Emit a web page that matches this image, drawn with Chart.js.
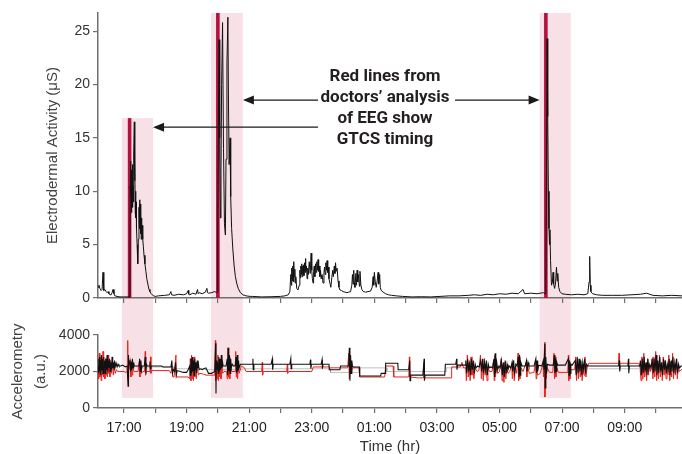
<!DOCTYPE html>
<html>
<head>
<meta charset="utf-8">
<script src="https://cdn.jsdelivr.net/npm/chart.js@4.4.1/dist/chart.umd.min.js"></script>
<style>
  html, body { margin: 0; padding: 0; background: #fff; overflow: hidden; }
  #eda { position: absolute; left: 0; top: 0; }
  #acc { position: absolute; left: 0; top: 312px; }
</style>
</head>
<body>
<canvas id="eda" width="682" height="312"></canvas>
<canvas id="acc" width="682" height="144"></canvas>
<script>
// time is hours after 16:00
const xMin = 0.17, xMax = 18.83;
const xTickHours = [1,2,3,4,5,6,7,8,9,10,11,12,13,14,15,16,17,18];
const xLabelHours = [1,3,5,7,9,11,13,15,17];
const xLabels = ['17:00','19:00','21:00','23:00','01:00','03:00','05:00','07:00','09:00'];
const edaTicks = [0,5,10,15,20,25];
const accTicks = [0,2000,4000];

// seizure windows (pink) and EEG onset (red lines)
const bandStart = [0.93, 3.78, 14.28];
const bandEnd = [1.93, 4.80, 15.28];
const bandTopEda = [16.85, 26.7, 26.7];
const bandBottomAcc = 550;
const seizureOnset = [1.18, 4.00, 14.48];

// annotation
const noteLines = ['Red lines from', 'doctors\u2019 analysis', 'of EEG show', 'GTCS timing'];
const noteAt = [9.34, 20.7];
const arrowFrom = [[7.2, 18.54], [7.2, 16.0], [11.58, 18.54]];
const arrowTo = [[4.80, 18.54], [1.93, 16.0], [14.28, 18.54]];

// electrodermal activity, [hours, uS]
const edaPoints = [
  [0.17,1.0],[0.20,1.2],[0.23,0.9],[0.27,0.7],[0.30,0.8],[0.33,2.4],[0.35,0.9],[0.36,0.7],[0.39,0.8],
  [0.43,0.6],[0.46,0.5],[0.49,0.6],[0.52,0.4],[0.55,0.3],[0.59,0.3],[0.62,0.5],[0.65,0.8],[0.68,0.4],
  [0.71,0.2],[0.78,0.15],[0.87,0.1],[1.00,0.1],[1.13,0.1],[1.18,0.1],
  [1.19,2.0],[1.20,10.5],[1.21,12.8],[1.22,9.5],[1.23,12.0],[1.24,8.0],[1.25,11.0],[1.26,9.5],[1.27,12.5],
  [1.28,8.5],[1.29,10.5],[1.30,9.0],[1.31,11.5],[1.32,13.5],[1.33,16.5],[1.34,11.0],[1.35,13.0],[1.36,8.0],
  [1.37,10.0],[1.38,7.5],[1.39,9.0],[1.40,6.5],[1.42,5.0],[1.44,3.2],[1.46,5.5],[1.48,8.5],[1.49,6.5],
  [1.50,9.2],[1.51,7.0],[1.52,8.8],[1.53,6.0],[1.54,8.0],[1.55,5.5],[1.56,7.5],[1.57,6.0],[1.58,6.8],
  [1.60,5.5],[1.62,4.8],[1.64,4.0],[1.67,3.2],[1.70,2.5],[1.73,1.8],[1.77,1.2],[1.80,0.8],[1.83,0.6],
  [1.87,0.4],[1.90,0.3],[1.95,0.2],[2.0,0.15],
  [2.10,0.2],[2.30,0.25],[2.45,0.3],[2.50,0.6],[2.52,0.3],[2.60,0.25],[2.75,0.35],[2.90,0.3],[3.00,0.4],
  [3.05,0.7],[3.07,0.35],[3.10,0.3],[3.20,0.45],[3.30,0.35],[3.35,0.8],[3.37,0.4],[3.40,0.5],[3.50,0.4],
  [3.60,0.55],[3.65,0.9],[3.67,0.5],[3.70,0.45],[3.80,0.5],[3.90,0.6],[3.97,0.5],
  [3.99,0.6],[4.00,8.0],[4.02,18.0],[4.04,24.2],[4.06,15.0],[4.08,7.5],[4.10,12.0],[4.12,20.0],[4.15,25.8],
  [4.18,14.0],[4.21,7.0],[4.24,5.9],[4.26,13.0],[4.29,22.0],[4.32,26.3],[4.34,18.0],[4.36,12.5],[4.39,15.0],
  [4.41,9.5],[4.44,6.5],[4.48,4.5],[4.52,3.0],[4.56,2.0],[4.60,1.4],[4.65,0.9],[4.72,0.5],[4.80,0.3],
  [4.90,0.2],[5.03,0.15],[5.10,0.15],[5.40,0.1],[5.70,0.12],[6.00,0.15],[6.14,0.2],
  [6.25,0.3],[6.30,0.6],[6.33,2.2],[6.345,1.2],[6.36,2.8],[6.375,1.6],[6.39,3.0],[6.40,1.8],[6.41,2.6],
  [6.42,1.5],[6.43,3.4],[6.44,2.0],[6.46,2.7],[6.47,1.4],[6.49,2.0],[6.52,0.9],[6.56,0.75],[6.60,1.2],
  [6.62,2.6],[6.635,1.9],[6.65,3.0],[6.665,2.2],[6.68,3.2],[6.69,2.0],[6.71,3.0],[6.72,2.3],[6.74,3.1],
  [6.75,2.1],[6.77,3.3],[6.785,2.4],[6.80,3.7],[6.81,2.5],[6.83,3.0],[6.85,1.8],[6.87,2.8],[6.89,2.2],
  [6.92,3.4],[6.95,2.3],[6.98,4.2],[7.00,2.6],[7.02,1.8],[7.04,1.4],[7.06,2.5],[7.08,3.0],[7.10,2.0],
  [7.12,3.2],[7.14,2.4],[7.16,3.4],[7.18,2.6],[7.20,3.6],[7.22,2.5],[7.24,3.0],[7.26,2.0],[7.28,2.6],
  [7.30,1.8],[7.33,2.2],[7.36,1.4],[7.39,2.4],[7.41,2.9],[7.43,2.2],[7.45,3.3],[7.47,2.6],[7.49,3.5],
  [7.51,2.4],[7.53,2.9],[7.55,1.8],[7.58,1.4],[7.61,1.0],[7.64,1.9],[7.67,2.6],[7.69,2.0],[7.72,3.0],
  [7.74,2.3],[7.76,3.3],[7.78,2.5],[7.81,2.8],[7.84,1.6],[7.87,1.0],[7.90,0.75],[7.95,0.7],[8.00,0.6],
  [8.06,0.55],[8.12,0.5],[8.18,0.55],[8.24,0.6],[8.28,1.2],[8.30,2.2],[8.32,1.3],[8.34,2.6],[8.36,1.4],
  [8.38,1.0],[8.41,2.3],[8.43,1.2],[8.45,2.6],[8.47,1.5],[8.50,2.2],[8.52,1.1],[8.54,2.5],[8.57,1.2],
  [8.60,0.8],[8.65,0.6],[8.72,0.55],[8.80,0.6],[8.88,0.65],[8.93,1.0],[8.96,2.0],[8.98,1.2],[9.00,2.4],
  [9.03,1.5],[9.06,1.0],[9.09,1.6],[9.12,2.4],[9.14,1.3],[9.17,2.2],[9.19,1.0],[9.22,0.7],[9.28,0.55],
  [9.36,0.4],[9.45,0.3],[9.55,0.25],[9.70,0.2],
  [9.90,0.15],[10.2,0.1],[10.5,0.12],[10.8,0.1],[11.1,0.15],[11.4,0.2],[11.7,0.2],[12.0,0.25],[12.2,0.3],
  [12.4,0.25],[12.6,0.35],[12.8,0.3],[13.0,0.4],[13.2,0.35],[13.4,0.45],[13.6,0.4],[13.75,0.8],[13.8,0.4],
  [14.0,0.45],[14.2,0.4],[14.4,0.5],
  [14.46,0.4],[14.48,1.5],[14.50,12.0],[14.52,24.3],[14.54,17.0],[14.56,10.0],[14.58,6.5],[14.595,5.0],
  [14.61,6.4],[14.63,3.5],[14.66,1.2],[14.69,1.5],[14.71,2.4],[14.73,1.3],[14.76,0.9],[14.79,1.4],
  [14.82,2.9],[14.84,1.6],[14.86,2.3],[14.89,1.0],[14.93,0.6],[14.99,0.4],[15.1,0.35],[15.3,0.3],
  [15.5,0.35],[15.7,0.3],[15.82,0.4],[15.86,1.5],[15.88,3.9],[15.90,1.2],[15.92,0.6],[15.97,0.4],
  [16.1,0.3],[16.3,0.25],[16.6,0.25],[16.9,0.25],[17.2,0.3],[17.5,0.35],[17.7,0.45],[17.9,0.25],
  [18.2,0.2],[18.5,0.25],[18.83,0.2]
];

// accelerometry, [hours, a.u.]
const accBlack = [
  [0.17,2300],[0.19,2700],[0.20,1900],[0.22,2800],[0.23,2000],[0.25,2600],[0.26,1800],[0.28,2900],[0.30,2100],
  [0.31,2700],[0.33,1900],[0.35,2800],[0.36,2200],[0.38,2600],[0.40,1900],[0.42,2700],[0.44,2100],[0.46,2900],
  [0.48,2000],[0.50,2600],[0.52,2200],[0.54,2700],[0.56,2000],[0.58,2500],[0.60,2100],[0.62,2800],[0.64,2200],
  [0.66,2500],[0.68,2100],[0.70,2600],[0.72,2250],[0.75,2450],[0.78,2250],[0.81,2400],[0.84,2300],
  [0.90,2300],[0.95,2350],[1.00,2300],[1.05,2250],[1.10,2300],[1.12,2300],[1.13,1200],[1.14,2900],[1.15,2300],
  [1.19,2600],[1.21,2000],[1.23,2500],[1.25,2100],[1.27,2700],[1.29,2200],[1.31,2500],[1.33,2300],[1.40,2300],
  [1.48,2300],[1.50,2700],[1.52,2000],[1.54,2600],[1.56,2100],[1.58,2300],[1.65,2300],[1.68,2800],[1.70,1900],
  [1.72,2400],[1.74,2300],[1.80,2300],[1.83,2550],[1.84,2150],[1.86,2300],[2.20,2300],[2.25,2250],[2.45,2250],
  [2.50,2250],[2.53,2600],[2.55,1900],[2.58,2100],[2.62,2000],[2.65,2500],[2.67,1800],[2.70,2050],[2.80,2000],
  [2.90,1950],[3.00,1950],[3.05,2100],
  [3.10,2300],[3.12,1800],[3.14,2700],[3.16,1900],[3.18,2800],[3.20,2000],[3.22,2600],[3.24,1800],[3.26,2700],
  [3.28,2100],[3.30,2500],[3.32,1900],[3.34,2600],[3.36,2200],[3.38,2400],[3.40,2100],[3.45,2150],[3.50,2100],
  [3.55,2150],[3.62,2200],[3.70,1900],[3.80,1900],[3.90,2000],[3.93,3550],[3.94,800],[3.95,2600],[3.97,2100],
  [3.99,2500],[4.01,1900],[4.03,2800],[4.05,2000],[4.07,2700],[4.09,2100],[4.11,2900],[4.13,2200],[4.15,2500],
  [4.17,2300],[4.22,2300],[4.26,2300],[4.30,2700],[4.31,1800],[4.33,3300],[4.35,2000],[4.37,2900],[4.39,1900],
  [4.41,2700],[4.43,2200],[4.46,2400],[4.50,2300],[4.55,2300],[4.58,2800],[4.60,1900],[4.62,2900],[4.64,2000],
  [4.66,2600],[4.68,2200],[4.72,2400],[4.80,2400],
  [4.85,2400],[5.10,2400],[5.12,2700],[5.13,2100],[5.15,2400],[5.70,2400],[5.74,2700],[5.75,2100],[5.77,2400],
  [6.30,2400],[6.33,2700],[6.34,2150],[6.36,2400],[6.94,2400],[6.96,2650],[6.97,2150],[6.99,2400],[7.30,2400],
  [7.33,2650],[7.34,2150],[7.36,2400],[7.55,2400],[7.56,2100],[7.90,2100],[7.92,2300],[8.10,2300],
  [8.18,2300],[8.20,3300],[8.22,1500],[8.24,2900],[8.26,1900],[8.28,2600],[8.30,2300],
  [8.32,2250],[8.52,2250],[8.53,1750],[9.20,1750],[9.22,1900],[9.35,1900],[9.36,2450],[9.75,2450],[9.76,2100],
  [10.10,2100],[10.13,2600],[10.14,1500],[10.16,1800],[10.55,1800],[10.59,2700],[10.60,1500],[10.62,1800],
  [11.25,1800],[11.27,2400],[11.60,2400],[11.63,2700],[11.64,2100],[11.66,2350],[11.90,2350],
  [11.92,2600],[11.95,1900],[11.98,2700],[12.01,2000],[12.04,2500],[12.07,1800],[12.10,2700],[12.13,2100],
  [12.16,2600],[12.19,1900],[12.22,2400],[12.25,2200],[12.30,2300],[12.35,2250],[12.40,2600],[12.43,2000],
  [12.46,2700],[12.49,1900],[12.52,2500],[12.55,2100],[12.58,2600],[12.61,1800],[12.64,2400],[12.67,2200],
  [12.72,2250],[12.78,2200],[12.82,2700],[12.84,1700],[12.86,3000],[12.88,1900],[12.91,2500],[12.94,2100],
  [12.98,2300],[13.02,2200],[13.06,2600],[13.09,1800],[13.12,2500],[13.15,1700],[13.18,2600],[13.21,1900],
  [13.24,2400],[13.27,2100],[13.31,2300],[13.36,2200],[13.40,2500],[13.42,2000],[13.45,2600],[13.48,1900],
  [13.52,2400],[13.56,2300],[13.60,2800],[13.62,1700],[13.64,2900],[13.66,1800],[13.68,2500],[13.72,2300],
  [13.78,2300],[13.82,2300],[13.86,2600],[13.88,2000],[13.91,2500],[13.94,2300],
  [14.00,2300],[14.10,2300],[14.16,2700],[14.18,1900],[14.20,2600],[14.22,2000],[14.25,2350],[14.35,2300],
  [14.40,2600],[14.42,2100],[14.45,3600],[14.46,1100],[14.48,2800],[14.50,1900],[14.53,2400],
  [14.60,2350],[14.72,2350],[14.75,2900],[14.77,1900],[14.79,2700],[14.81,2000],[14.83,2500],[14.86,2350],
  [15.10,2350],[15.20,2700],[15.22,1800],[15.24,2600],[15.26,1900],[15.28,2400],[15.32,2350],
  [15.42,2600],[15.45,1800],[15.48,2800],[15.51,1900],[15.54,2700],[15.57,2000],[15.60,2600],[15.63,1800],
  [15.66,2500],[15.69,2100],[15.72,2700],[15.75,1900],[15.78,2400],[15.82,2300],
  [15.85,2300],[16.80,2300],[16.83,2600],[16.84,2000],[16.86,2300],[17.10,2300],[17.12,2700],[17.13,1900],
  [17.15,2300],[17.48,2300],
  [17.50,2600],[17.53,1800],[17.56,2700],[17.59,1900],[17.62,2800],[17.65,2000],[17.68,2500],[17.71,1800],
  [17.74,2700],[17.77,2100],[17.80,2400],[17.84,2200],[17.88,2600],[17.91,1900],[17.94,2700],[17.97,2000],
  [18.00,2900],[18.03,1800],[18.06,2600],[18.09,1900],[18.12,2800],[18.15,2000],[18.18,2500],[18.21,1800],
  [18.24,2700],[18.27,2100],[18.30,2600],[18.33,1900],[18.36,2400],[18.39,2100],[18.42,2700],[18.45,1800],
  [18.48,2600],[18.51,2000],[18.54,2800],[18.57,1900],[18.60,2500],[18.63,2100],[18.66,2700],[18.69,1900],
  [18.72,2400],[18.75,2200],[18.80,2300],[18.83,2300]
];

const accRed = [
  [0.17,2100],[0.19,1600],[0.21,3000],[0.23,1700],[0.25,2600],[0.27,1500],[0.29,2800],[0.31,1800],[0.33,3100],
  [0.35,1700],[0.37,2500],[0.39,1600],[0.41,2700],[0.43,1800],[0.45,2400],[0.47,1700],[0.49,2900],[0.51,1900],
  [0.53,2300],[0.55,1700],[0.57,2600],[0.60,1900],[0.63,2400],[0.66,1800],[0.69,2300],[0.72,1900],[0.76,2100],
  [0.80,2000],[0.85,2000],[1.00,2000],[1.05,1950],[1.10,2000],[1.12,3700],[1.13,1600],[1.15,2000],[1.20,2600],
  [1.22,1700],[1.24,2400],[1.26,1800],[1.28,2200],[1.32,2000],[1.45,2000],[1.49,2500],[1.51,1700],[1.53,2300],
  [1.56,1900],[1.60,2000],[1.66,2000],[1.68,3100],[1.69,1800],[1.72,2000],[1.83,2000],[1.85,2800],[1.86,1900],
  [1.88,2050],[2.45,2050],[2.50,1900],[2.53,2300],[2.56,1700],[2.60,1700],[2.66,2900],[2.67,1700],[3.05,1700],
  [3.10,1600],[3.12,2700],[3.14,1500],[3.16,2900],[3.18,1600],[3.20,2500],[3.22,1500],[3.24,2800],[3.26,1700],
  [3.28,2400],[3.31,1600],[3.34,2300],[3.38,1800],[3.42,1900],[3.55,1850],[3.62,1800],[3.90,1800],[3.92,3700],
  [3.93,1500],[3.96,2200],[3.98,1600],[4.00,2900],[4.02,1500],[4.04,2600],[4.06,1700],[4.08,2300],[4.10,1600],
  [4.12,2800],[4.15,1900],[4.20,2000],[4.28,2000],[4.30,1600],[4.32,3300],[4.34,1700],[4.36,2800],[4.38,1600],
  [4.40,2500],[4.44,2000],[4.55,2000],[4.57,3100],[4.59,1700],[4.61,2700],[4.63,1600],[4.65,2400],[4.68,1900],
  [4.75,2300],[4.85,2200],[4.90,2000],[5.40,2000],[5.42,2500],[5.43,1800],[5.45,2000],[6.20,2000],[6.22,2400],
  [6.23,1900],[6.26,2000],[7.00,2000],[7.05,2250],[7.50,2250],[7.55,2250],[7.60,2200],[8.15,2200],[8.18,3000],
  [8.20,1600],[8.23,2600],[8.26,1900],[8.30,2200],[8.52,2200],[8.53,1700],[9.33,1700],[9.36,2300],[9.60,2300],
  [9.62,1700],[10.10,1700],[10.12,2800],[10.13,1700],[10.40,1650],[10.57,1650],[10.59,2500],[10.60,1650],
  [11.45,1650],[11.47,2250],[11.75,2250],[11.80,2500],[11.85,2200],[11.92,2200],[11.94,1500],[11.97,2900],
  [12.00,1700],[12.03,2600],[12.06,1500],[12.09,2800],[12.12,1800],[12.15,2400],[12.18,1600],[12.22,2200],
  [12.28,2000],[12.34,2050],[12.39,2900],[12.42,1600],[12.45,2500],[12.48,1500],[12.51,2700],[12.54,1800],
  [12.57,2300],[12.60,1500],[12.63,2200],[12.68,2000],[12.76,2000],[12.81,2600],[12.83,1500],[12.85,2900],
  [12.87,1700],[12.90,2300],[12.94,1900],[13.00,2000],[13.05,2700],[13.08,1500],[13.11,2400],[13.14,1400],
  [13.17,2500],[13.20,1600],[13.23,2200],[13.27,1900],[13.33,2000],[13.39,2400],[13.41,1600],[13.44,2600],
  [13.47,1500],[13.51,2200],[13.55,1900],[13.59,3000],[13.61,1500],[13.63,2800],[13.65,1600],[13.68,2200],
  [13.75,2000],[13.85,2500],[13.87,1700],[13.90,2300],[13.95,1900],[14.10,1950],[14.15,2500],[14.17,1600],
  [14.19,2400],[14.22,1800],[14.30,1900],[14.39,2400],[14.41,1700],[14.44,3500],[14.45,600],[14.47,2500],
  [14.49,1600],[14.52,2200],[14.60,1950],[14.70,1950],[14.74,3000],[14.76,1600],[14.78,2800],[14.80,1700],
  [14.83,2200],[14.88,1950],[15.18,1950],[15.20,2900],[15.21,1500],[15.23,2500],[15.25,1600],[15.28,2100],
  [15.40,2100],[15.43,2800],[15.46,1500],[15.49,2700],[15.52,1600],[15.55,2500],[15.58,1700],[15.61,2400],
  [15.64,1500],[15.67,2300],[15.70,1800],[15.73,2800],[15.76,1700],[15.80,2200],[15.85,2450],[16.80,2450],
  [16.82,3000],[16.83,2300],[16.86,2450],[17.45,2450],[17.49,2200],[17.52,1500],[17.55,2800],[17.58,1600],
  [17.61,3000],[17.64,1700],[17.67,2400],[17.70,1500],[17.73,2700],[17.76,1800],[17.79,2300],[17.83,2000],
  [17.87,2700],[17.90,1600],[17.93,2800],[17.96,1700],[17.99,3100],[18.02,1500],[18.05,2500],[18.08,1600],
  [18.11,2900],[18.14,1700],[18.17,2400],[18.20,1500],[18.23,2800],[18.26,1800],[18.29,2600],[18.32,1600],
  [18.35,2300],[18.38,1800],[18.41,2900],[18.44,1500],[18.47,2500],[18.50,1700],[18.53,3000],[18.56,1600],
  [18.59,2400],[18.62,1800],[18.65,2700],[18.68,1600],[18.71,2300],[18.75,2000],[18.80,2100],[18.83,2100]
];

// faint third trace, null breaks the line where it is hidden
const accGray = [
  [1.40,2250],[2.60,2250],[2.60,2150],[3.60,2150],[3.60,2100],[4.80,2100],[4.80,2150],[7.60,2150],[7.60,1950],
  [8.50,1950],[8.50,2200],[9.40,2200],[9.40,2000],[11.30,2000],[11.30,2200],[11.90,2200],[12.0,null],
  [15.85,2150],[17.45,2150]
];

const BAND = '#f8e1e6';
const ONSET = '#b3123f';
const AXIS = '#707070';
const FONT = "'Liberation Sans', Arial, sans-serif";
Chart.defaults.font.family = FONT;
Chart.defaults.color = '#2a2a2a';

const pts = arr => arr.map(([x, y]) => ({x, y}));
const fmtTick = v => { const i = xLabelHours.indexOf(v); return i >= 0 ? xLabels[i] : ''; };

function drawArrow(ctx, x0, y0, x1, y1) {
  const dir = Math.sign(x1 - x0);
  ctx.beginPath();
  ctx.moveTo(x0, y0);
  ctx.lineTo(x1 - dir * 8, y1);
  ctx.stroke();
  ctx.beginPath();
  ctx.moveTo(x1, y1);
  ctx.lineTo(x1 - dir * 11, y1 - 4.5);
  ctx.lineTo(x1 - dir * 11, y1 + 4.5);
  ctx.closePath();
  ctx.fill();
}

const edaMarks = {
  id: 'edaMarks',
  beforeDraw(chart) {
    const {ctx, scales: {x, y}} = chart;
    ctx.save();
    ctx.fillStyle = BAND;
    bandStart.forEach((b, i) => {
      const x0 = x.getPixelForValue(b), x1 = x.getPixelForValue(bandEnd[i]);
      const top = y.getPixelForValue(bandTopEda[i]);
      ctx.fillRect(x0, top, x1 - x0, chart.height - top);
    });
    ctx.restore();
  },
  beforeDatasetsDraw(chart) {
    const {ctx, scales: {x, y}} = chart;
    ctx.save();
    ctx.fillStyle = ONSET;
    seizureOnset.forEach((t, i) => {
      const px = x.getPixelForValue(t);
      const top = y.getPixelForValue(bandTopEda[i]);
      ctx.fillRect(px - 1.8, top, 3.6, y.getPixelForValue(0) - top);
    });
    ctx.restore();
  },
  afterDatasetsDraw(chart) {
    const {ctx, scales: {x, y}} = chart;
    ctx.save();
    ctx.strokeStyle = '#1a1a1a';
    ctx.fillStyle = '#1a1a1a';
    ctx.lineWidth = 1.2;
    arrowFrom.forEach((f, i) => {
      drawArrow(ctx, x.getPixelForValue(f[0]), y.getPixelForValue(f[1]),
        x.getPixelForValue(arrowTo[i][0]), y.getPixelForValue(arrowTo[i][1]));
    });
    ctx.font = "bold 17px Roboto, 'Liberation Sans', sans-serif";
    ctx.fillStyle = '#231f20';
    ctx.textAlign = 'center';
    ctx.textBaseline = 'middle';
    const cx = x.getPixelForValue(noteAt[0]), cy = y.getPixelForValue(noteAt[1]);
    noteLines.forEach((s, i) => ctx.fillText(s, cx, cy + i * 21));
    ctx.restore();
  }
};

const accMarks = {
  id: 'accMarks',
  beforeDraw(chart) {
    const {ctx, scales: {x, y}} = chart;
    ctx.save();
    ctx.fillStyle = BAND;
    const bottom = y.getPixelForValue(bandBottomAcc);
    bandStart.forEach((b, i) => {
      const x0 = x.getPixelForValue(b), x1 = x.getPixelForValue(bandEnd[i]);
      ctx.fillRect(x0, 0, x1 - x0, bottom);
    });
    ctx.restore();
  }
};

const xScale = (showLabels, h) => ({
  type: 'linear', min: xMin, max: xMax,
  afterBuildTicks: s => { s.ticks = xTickHours.map(v => ({value: v})); },
  afterFit: s => { s.height = h; },
  border: {color: AXIS, width: 1.5},
  grid: {drawOnChartArea: false, drawTicks: true, tickLength: 5, color: AXIS, lineWidth: 1.2},
  ticks: {display: showLabels, autoSkip: false, maxRotation: 0, padding: 7,
          font: {size: 14}, color: '#222', callback: fmtTick},
  title: {display: showLabels, text: 'Time (hr)', font: {size: 15}, color: '#333', padding: {top: 0, bottom: 0}}
});

const yAxis = (min, max, ticks, title, titlePad, lh) => ({
  min, max,
  afterBuildTicks: s => { s.ticks = ticks.map(v => ({value: v})); },
  afterFit: s => { s.width = 98; },
  border: {color: AXIS, width: 1.5},
  grid: {drawOnChartArea: false, drawTicks: true, tickLength: 5, color: AXIS, lineWidth: 1.2},
  ticks: {padding: 3, font: {size: 14}, color: '#333', callback: v => String(v)},
  title: {display: true, text: title, font: {size: 15, lineHeight: lh}, color: '#444', padding: {top: titlePad, bottom: 0}}
});

const base = {
  responsive: false, animation: false, devicePixelRatio: 1,
  plugins: {legend: {display: false}, tooltip: {enabled: false}},
  elements: {point: {radius: 0}, line: {tension: 0}}
};

new Chart(document.getElementById('eda'), {
  type: 'line',
  data: {datasets: [{data: pts(edaPoints), borderColor: '#111', borderWidth: 1}]},
  options: {...base,
    layout: {padding: {left: 0, right: 0, top: 13, bottom: 0}},
    scales: {
      x: xScale(false, 14),
      y: yAxis(0, 26.7, edaTicks, 'Electrodermal Activity (\u03bcS)', 44, 1.2)
    }
  },
  plugins: [edaMarks]
});

new Chart(document.getElementById('acc'), {
  type: 'line',
  data: {datasets: [
    {data: pts(accBlack), borderColor: '#111', borderWidth: 1.1},
    {data: pts(accRed), borderColor: '#e8231c', borderWidth: 1},
    {data: pts(accGray), borderColor: 'rgba(150,150,150,0.6)', borderWidth: 1, spanGaps: false}
  ]},
  options: {...base,
    layout: {padding: {left: 0, right: 0, top: 23, bottom: 0}},
    scales: {
      x: xScale(true, 48),
      y: yAxis(0, 4000, accTicks, ['Accelerometry', '(a.u.)'], 7, 1.5)
    }
  },
  plugins: [accMarks]
});
</script>
</body>
</html>
